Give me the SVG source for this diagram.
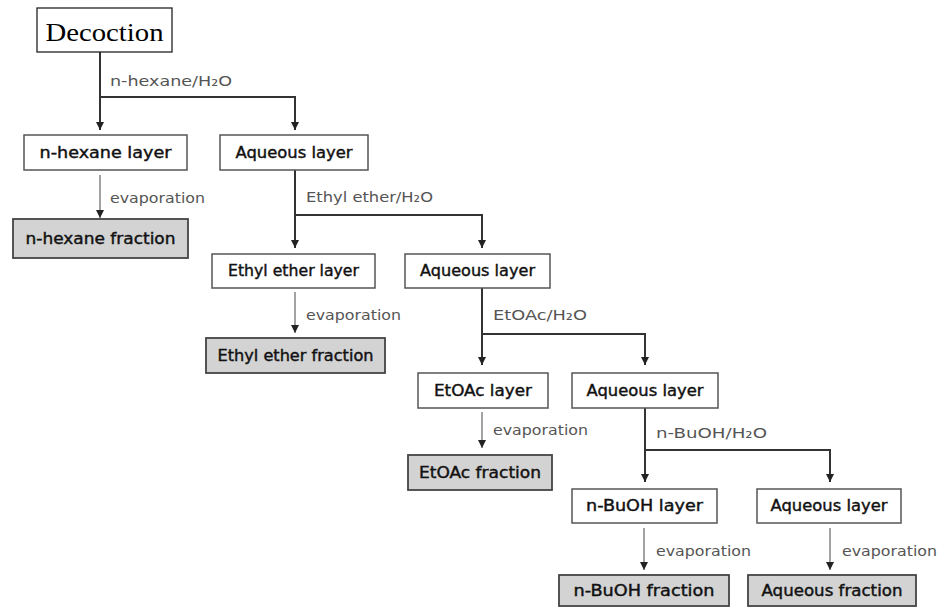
<svg xmlns="http://www.w3.org/2000/svg" width="940" height="608" viewBox="0 0 940 608">
<defs>
<marker id="ahd" markerUnits="userSpaceOnUse" markerWidth="10" markerHeight="10" refX="9" refY="5" viewBox="0 0 10 10" orient="auto">
<path d="M1,1 L9,5 L1,9 Z" fill="#222"/>
</marker>
<style>
.box{fill:#fff;stroke:#555;stroke-width:1.5}
.frac{fill:#d3d3d3;stroke:#444;stroke-width:1.8}
.t{font-family:"DejaVu Sans",sans-serif;font-size:15px;fill:#111;stroke:#111;stroke-width:0.4;text-anchor:middle}
.lbl{font-family:"DejaVu Sans",sans-serif;font-size:14px;fill:#555}
.main{fill:none;stroke:#333;stroke-width:2;marker-end:url(#ahd)}
.evap{fill:none;stroke:#666;stroke-width:1.2;marker-end:url(#ahd)}
</style>
</defs>
<rect width="940" height="608" fill="#fff"/>
<g id="connectors">
<path class="main" d="M100,52 V130"/>
<path class="main" d="M100,97 H295 V130"/>
<path class="evap" d="M100,175 V218"/>
<path class="main" d="M295,170 V248"/>
<path class="main" d="M295,215 H482 V248"/>
<path class="evap" d="M295,292 V333"/>
<path class="main" d="M482,288 V365"/>
<path class="main" d="M482,334 H645 V365"/>
<path class="evap" d="M482,412 V448"/>
<path class="main" d="M645,408 V482"/>
<path class="main" d="M645,450 H830 V482"/>
<path class="evap" d="M644,528 V570"/>
<path class="evap" d="M830,528 V570"/>
</g>
<g id="labels">
<text class="lbl" x="110" y="86" textLength="122" lengthAdjust="spacingAndGlyphs">n-hexane/H₂O</text>
<text class="lbl" x="110" y="203" textLength="95" lengthAdjust="spacingAndGlyphs">evaporation</text>
<text class="lbl" x="306" y="202" textLength="127" lengthAdjust="spacingAndGlyphs">Ethyl ether/H₂O</text>
<text class="lbl" x="306" y="320" textLength="95" lengthAdjust="spacingAndGlyphs">evaporation</text>
<text class="lbl" x="493" y="320" textLength="94" lengthAdjust="spacingAndGlyphs">EtOAc/H₂O</text>
<text class="lbl" x="493" y="435" textLength="95" lengthAdjust="spacingAndGlyphs">evaporation</text>
<text class="lbl" x="656" y="438" textLength="111" lengthAdjust="spacingAndGlyphs">n-BuOH/H₂O</text>
<text class="lbl" x="656" y="556" textLength="95" lengthAdjust="spacingAndGlyphs">evaporation</text>
<text class="lbl" x="842" y="556" textLength="95" lengthAdjust="spacingAndGlyphs">evaporation</text>
</g>
<g id="decoction">
<rect x="37" y="8" width="135" height="44" fill="#fff" stroke="#222" stroke-width="1.3"/>
<text x="104.5" y="41" font-family="Liberation Serif,serif" font-size="26" fill="#000" text-anchor="middle" textLength="118" lengthAdjust="spacingAndGlyphs">Decoction</text>
</g>
<g id="hexane-layer">
<rect class="box" x="24" y="135" width="163" height="35"/>
<text class="t" x="105.5" y="158" textLength="132" lengthAdjust="spacingAndGlyphs">n-hexane layer</text>
</g>
<g id="aqueous-1">
<rect class="box" x="220" y="135" width="148" height="35"/>
<text class="t" x="294" y="158" textLength="117" lengthAdjust="spacingAndGlyphs">Aqueous layer</text>
</g>
<g id="hexane-fraction">
<rect class="frac" x="13" y="219" width="175" height="39"/>
<text class="t" x="100.5" y="244" textLength="150" lengthAdjust="spacingAndGlyphs">n-hexane fraction</text>
</g>
<g id="ether-layer">
<rect class="box" x="212" y="254" width="163" height="34"/>
<text class="t" x="293.5" y="276" textLength="131" lengthAdjust="spacingAndGlyphs">Ethyl ether layer</text>
</g>
<g id="aqueous-2">
<rect class="box" x="405" y="254" width="145" height="34"/>
<text class="t" x="477.5" y="276" textLength="115" lengthAdjust="spacingAndGlyphs">Aqueous layer</text>
</g>
<g id="ether-fraction">
<rect class="frac" x="206" y="338" width="179" height="35"/>
<text class="t" x="295.5" y="361" textLength="156" lengthAdjust="spacingAndGlyphs">Ethyl ether fraction</text>
</g>
<g id="etoac-layer">
<rect class="box" x="418" y="373" width="130" height="35"/>
<text class="t" x="483" y="396" textLength="98" lengthAdjust="spacingAndGlyphs">EtOAc layer</text>
</g>
<g id="aqueous-3">
<rect class="box" x="572" y="373" width="146" height="35"/>
<text class="t" x="645" y="396" textLength="117" lengthAdjust="spacingAndGlyphs">Aqueous layer</text>
</g>
<g id="etoac-fraction">
<rect class="frac" x="408" y="455" width="144" height="35"/>
<text class="t" x="480" y="478" textLength="122" lengthAdjust="spacingAndGlyphs">EtOAc fraction</text>
</g>
<g id="buoh-layer">
<rect class="box" x="572" y="489" width="145" height="34"/>
<text class="t" x="644.5" y="511" textLength="117" lengthAdjust="spacingAndGlyphs">n-BuOH layer</text>
</g>
<g id="aqueous-4">
<rect class="box" x="757" y="489" width="144" height="34"/>
<text class="t" x="829" y="511" textLength="117" lengthAdjust="spacingAndGlyphs">Aqueous layer</text>
</g>
<g id="buoh-fraction">
<rect class="frac" x="559" y="575" width="170" height="31"/>
<text class="t" x="644" y="596" textLength="141" lengthAdjust="spacingAndGlyphs">n-BuOH fraction</text>
</g>
<g id="aqueous-fraction">
<rect class="frac" x="748" y="575" width="168" height="31"/>
<text class="t" x="832" y="596" textLength="141" lengthAdjust="spacingAndGlyphs">Aqueous fraction</text>
</g>
</svg>
